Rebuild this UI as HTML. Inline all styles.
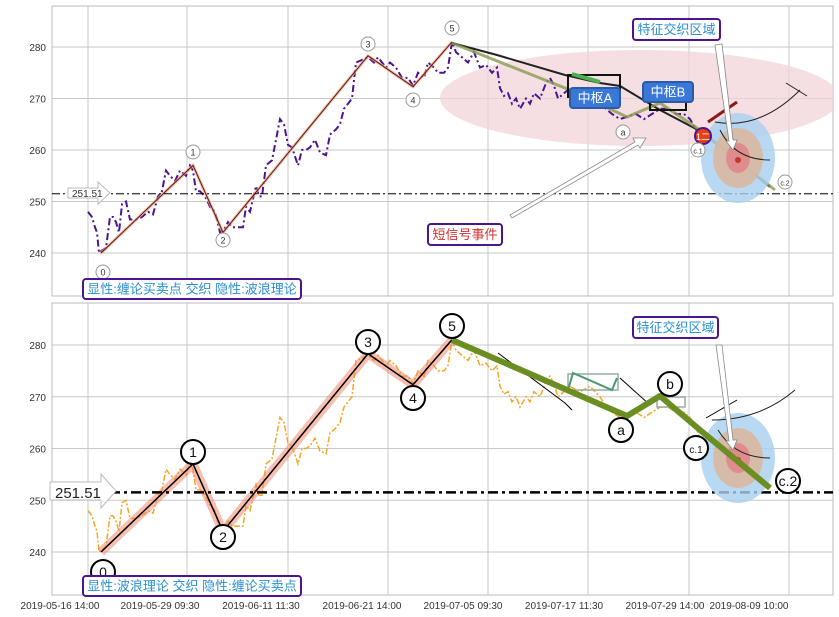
<!DOCTYPE html>
<html><head><meta charset="utf-8"><style>
body{margin:0;background:#fff;width:839px;height:617px;overflow:hidden}
svg{display:block}
text{font-family:"Liberation Sans","Noto Sans CJK SC",sans-serif}
</style></head><body>
<svg id="s" width="839" height="617" xmlns="http://www.w3.org/2000/svg">
<defs>
<clipPath id="c1"><rect x="52" y="6" width="781" height="290"/></clipPath>
<clipPath id="c2"><rect x="52" y="303" width="781" height="292"/></clipPath>
</defs>
<g id="grid" stroke="#c8c8c8" stroke-width="1" fill="none"></g>
<g id="top" clip-path="url(#c1)">
<ellipse cx="640" cy="98" rx="200" ry="48" fill="#f2d4d8" opacity="0.75"/>
</g>
<g id="bot" clip-path="url(#c2)"></g>
<g id="over"></g>
</svg>
<script>
var NS="http://www.w3.org/2000/svg";
function el(p,t,a,txt){var e=document.createElementNS(NS,t);for(var k in a)e.setAttribute(k,a[k]);if(txt!=null)e.textContent=txt;document.getElementById(p).appendChild(e);return e;}
function yT(v){return 47+(280-v)*5.15;}
function yB(v){return 345+(280-v)*5.175;}
// frames and grid
var gx=[88,187,288,388,488,588,689,789];
gx.forEach(function(x){el('grid','line',{x1:x,y1:6,x2:x,y2:296});el('grid','line',{x1:x,y1:303,x2:x,y2:595});});
[280,270,260,250,240].forEach(function(v){el('grid','line',{x1:52,y1:yT(v),x2:833,y2:yT(v)});el('grid','line',{x1:52,y1:yB(v),x2:833,y2:yB(v)});
el('over','text',{x:46,y:yT(v)+4,'font-size':10,'text-anchor':'end',fill:'#333'},v);
el('over','text',{x:46,y:yB(v)+4,'font-size':10,'text-anchor':'end',fill:'#333'},v);});
el('grid','rect',{x:52,y:6,width:781,height:290,stroke:'#bbb'});
el('grid','rect',{x:52,y:303,width:781,height:292,stroke:'#bbb'});
var xl=[[60,'2019-05-16 14:00'],[160,'2019-05-29 09:30'],[261,'2019-06-11 11:30'],[362,'2019-06-21 14:00'],[463,'2019-07-05 09:30'],[564,'2019-07-17 11:30'],[665,'2019-07-29 14:00'],[749,'2019-08-09 10:00']];
xl.forEach(function(a){el('over','text',{x:a[0],y:609,'font-size':10,'text-anchor':'middle',fill:'#333'},a[1]);});
var P=[[88,248],[92,247],[95,245],[97,244],[99,240],[102,240.5],[106,241],[110,247],[113,247],[116,246],[119,244],[122,249.5],[126,250],[130,246.5],[136,246.5],[142,247],[148,248],[153,247.5],[158,251],[162,252],[166,256],[170,255],[175,254],[180,256],[186,255],[190,257],[193,256],[196,252],[200,252],[205,251],[210,249],[215,248],[220,244],[224,244.5],[228,246],[232,245],[238,245],[243,245],[246,249],[250,248],[256,253],[259,251],[262,251],[266,257],[272,258],[280,266],[284,265],[288,261],[292,260.5],[298,257],[302,260],[306,260],[310,260.5],[315,262],[320,259.5],[326,259],[330,263],[336,264],[340,265],[344,268],[348,269],[352,270],[356,277],[362,277.5],[368,278],[374,277],[378,278],[386,276],[390,277],[396,276],[402,274],[408,274],[413,272.5],[418,275],[424,274],[428,277],[434,276],[438,275],[444,275],[448,276],[452,281],[456,279],[462,278],[468,277],[474,279],[480,276],[486,276.5],[492,275],[497,276],[500,272],[504,270.5],[508,271],[512,269],[516,270],[520,268],[526,270],[530,269],[534,271],[540,270],[546,273],[550,274],[554,272.5],[558,270],[564,271],[570,272],[580,271],[590,272],[600,270],[606,268],[612,267],[620,266],[628,266.5],[636,267],[644,266],[652,267],[660,268],[668,268],[676,267],[684,267],[690,266],[696,264],[700,262]];
function pts(f){return P.map(function(p){return p[0]+','+f(p[1]).toFixed(1);}).join(' ');}
var W=[[101,240],[193,257],[223,244],[368,278.3],[413,272.3],[452,281]];
function wp(f){return W.map(function(p){return p[0]+','+f(p[1]).toFixed(1);}).join(' ');}
// TOP
el('top','polyline',{points:pts(yT),fill:'none',stroke:'#4b1590','stroke-width':2,'stroke-dasharray':'7,3,2,3'});
el('top','polyline',{points:wp(yT),fill:'none',stroke:'#f0a080','stroke-width':3,opacity:0.7});
el('top','polyline',{points:wp(yT),fill:'none',stroke:'#5a1a10','stroke-width':1});
el('top','line',{x1:52,y1:yT(251.51),x2:833,y2:yT(251.51),stroke:'#000','stroke-width':1,'stroke-dasharray':'8,3,2,3'});
el('top','polyline',{points:'452,43 497,55 565,75 600,83 620,86 660,110 700,131 770,187',fill:'none',stroke:'#222','stroke-width':2});
el('top','polyline',{points:'452,43 570,90 627,117 660,103 700,130 775,190',fill:'none',stroke:'#8a9a50','stroke-width':3,opacity:0.8});
el('top','rect',{x:568,y:75,width:52,height:22,fill:'none',stroke:'#111','stroke-width':2});
el('top','rect',{x:650,y:100,width:36,height:10,fill:'none',stroke:'#111','stroke-width':2});
el('top','line',{x1:572,y1:74,x2:600,y2:82,stroke:'#4caf50','stroke-width':4});
el('top','line',{x1:708,y1:122,x2:737,y2:102,stroke:'#8b1a1a','stroke-width':3});
el('top','ellipse',{cx:738,cy:158,rx:37,ry:45,fill:'#a8cff0',opacity:0.8});
el('top','ellipse',{cx:738,cy:158,rx:25,ry:30,fill:'#d9b8a0',opacity:0.9});
el('top','ellipse',{cx:738,cy:158,rx:12,ry:15,fill:'#e08c8c'});
el('top','circle',{cx:738,cy:160,r:3,fill:'#c0392b'});
el('top','path',{d:'M715,122 Q760,130 800,90',fill:'none',stroke:'#222','stroke-width':1});
el('top','path',{d:'M720,130 Q735,160 770,160',fill:'none',stroke:'#222','stroke-width':1});
el('top','line',{x1:786,y1:83,x2:807,y2:96,stroke:'#222','stroke-width':1});
el('top','circle',{cx:703,cy:136,r:8,fill:'#e84010',stroke:'#4b1590','stroke-width':2});
el('top','text',{x:703,y:140,'font-size':9,fill:'#fff','text-anchor':'middle'},'1二');
el('top','polygon',{points:'715,45 722,44 733,140 737,140 733,150 726,141 729,141',fill:'#fff',stroke:'#888','stroke-width':0.8});
el('top','polygon',{points:'512,218 510,215 635,142 633,138 646,138 640,148 638,145',fill:'#fff',stroke:'#888','stroke-width':0.8});
el('top','polygon',{points:'68,188 98,188 98,182 110,193 98,204 98,198 68,198',fill:'#fff',stroke:'#bbb'});
el('top','text',{x:72,y:197,'font-size':10,fill:'#333'},'251.51');
[[103,272,'0'],[193,152,'1'],[223,240,'2'],[368,44,'3'],[413,100,'4'],[452,28,'5'],[623,132,'a'],[698,150,'c.1'],[785,182,'c.2']].forEach(function(a){
el('top','circle',{cx:a[0],cy:a[1],r:7,fill:'#fff',stroke:'#999'});
el('top','text',{x:a[0],y:a[1]+3.5,'font-size':a[2].length>1?7:9,'text-anchor':'middle',fill:'#333'},a[2]);});
// boxes top
function lab(p,x,y,w,h,t,c,bg,bc,fs){el(p,'rect',{x:x,y:y,width:w,height:h,rx:3,fill:bg,stroke:bc,'stroke-width':2});el(p,'text',{x:x+w/2,y:y+h/2+fs*0.36,'font-size':fs,'text-anchor':'middle',fill:c},t);}
lab('over',570,88,50,20,'中枢A','#fff','#3a78d8','#2a5aa8',13);
lab('over',643,82,50,20,'中枢B','#fff','#3a78d8','#2a5aa8',13);
lab('over',633,19,87,21,'特征交织区域','#2a8fd0','#fff','#4b1590',13);
lab('over',428,224,74,21,'短信号事件','#d03030','#fff','#4b1590',13);
lab('over',83,279,218,20,'显性:缠论买卖点 交织 隐性:波浪理论','#2a8fd0','#fff','#4b1590',13);
// BOTTOM
el('bot','polyline',{points:pts(yB),fill:'none',stroke:'#f5a623','stroke-width':1.5,'stroke-dasharray':'6,2,2,2'});
el('bot','polyline',{points:wp(yB),fill:'none',stroke:'#f08060','stroke-width':9,opacity:0.5,'stroke-linejoin':'round'});
el('bot','polyline',{points:wp(yB),fill:'none',stroke:'#000','stroke-width':1.5});
el('bot','line',{x1:110,y1:yB(251.51),x2:833,y2:yB(251.51),stroke:'#000','stroke-width':2.5,'stroke-dasharray':'10,4,3,4'});
el('bot','ellipse',{cx:738,cy:458,rx:37,ry:45,fill:'#a8cff0',opacity:0.8});
el('bot','ellipse',{cx:738,cy:458,rx:25,ry:30,fill:'#d9b8a0',opacity:0.9});
el('bot','ellipse',{cx:738,cy:458,rx:12,ry:15,fill:'#e08c8c'});
el('bot','circle',{cx:738,cy:460,r:3,fill:'#c0392b'});
el('bot','polyline',{points:'498,353 565,403 572,410',fill:'none',stroke:'#000','stroke-width':1});
el('bot','polyline',{points:'620,378 650,405',fill:'none',stroke:'#000','stroke-width':1});
el('bot','rect',{x:568,y:374,width:50,height:16,fill:'none',stroke:'#9aa','stroke-width':1.5});
el('bot','rect',{x:657,y:397,width:28,height:10,fill:'none',stroke:'#9aa','stroke-width':1.5});
el('bot','polyline',{points:'568,390 573,373 612,390 617,378',fill:'none',stroke:'#4a9a70','stroke-width':2});
el('bot','polyline',{points:'452,340 627,416 660,396 700,430 770,488',fill:'none',stroke:'#6b8e23','stroke-width':6,'stroke-linejoin':'round'});
el('bot','line',{x1:706,y1:418,x2:737,y2:400,stroke:'#000','stroke-width':1});
el('bot','path',{d:'M712,420 Q760,420 795,390',fill:'none',stroke:'#222','stroke-width':1});
el('bot','path',{d:'M718,430 Q735,458 770,458',fill:'none',stroke:'#222','stroke-width':1});
el('bot','polygon',{points:'716,345 722,345 733,440 737,440 733,450 726,441 729,441',fill:'#fff',stroke:'#888','stroke-width':0.8});
el('over','polygon',{points:'50,482 101,482 101,474 116,491 101,508 101,500 50,500',fill:'#fff',stroke:'#bbb'});
el('over','text',{x:55,y:498,'font-size':15,fill:'#222'},'251.51');
[[103,572,'0'],[193,452,'1'],[223,537,'2'],[368,342,'3'],[413,398,'4'],[452,326,'5'],[621,430,'a'],[670,384,'b'],[696,448,'c.1'],[788,481,'c.2']].forEach(function(a){
el('bot','circle',{cx:a[0],cy:a[1],r:12,fill:'#fff',stroke:'#000','stroke-width':2});
el('bot','text',{x:a[0],y:a[1]+5,'font-size':a[2]=='c.1'?10:14,'text-anchor':'middle',fill:'#111'},a[2]);});
lab('over',633,317,85,21,'特征交织区域','#2a8fd0','#fff','#4b1590',13);
lab('over',83,576,218,20,'显性:波浪理论 交织 隐性:缠论买卖点','#2a8fd0','#fff','#4b1590',13);
</script>
</body></html>
